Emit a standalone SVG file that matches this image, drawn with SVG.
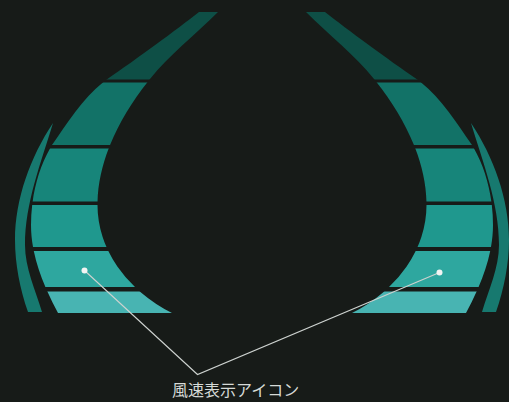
<svg xmlns="http://www.w3.org/2000/svg" xmlns:xlink="http://www.w3.org/1999/xlink" width="509" height="402" viewBox="0 0 509 402">
  <style>
    .s1{fill:#0e4f46}
    .s2{fill:#127267}
    .s3{fill:#17857a}
    .s4{fill:#1f988e}
    .s5{fill:#2ea79f}
    .s6{fill:#48b4b2}
    .arc{fill:#17796f}
    .lead{fill:none;stroke:#cdd2cf;stroke-width:1.1}
    .dot{fill:#f2f4f3}
    .lbl{font-family:"Noto Sans CJK JP","Noto Sans",sans-serif;font-size:16px;fill:#d6dad7}
  </style>
  <defs>
    <path id="crescent" d="M199,12 C176,30 138,58 106,80 C83,97.6 68,122 52,145 C38,168 31,197 31,225 C31,256 43.6,286 58,313 L172,313 A164 129 0 0 1 97.5,205 C97.5,160 120.4,115.7 150,79 C169.5,54.8 195,35 218,12 Z"/>
    <path id="thinarc" d="M53,123 C30.4,157 15,199 15,240 C15,264 20,289.4 28,312 L42,312 C35.5,290 25,268 25,245 C25,203 41,163 53,123 Z"/>
    <clipPath id="c1"><rect x="0" y="0" width="262" height="79.5"/></clipPath>
    <clipPath id="c2"><rect x="0" y="82.5" width="262" height="62.5"/></clipPath>
    <clipPath id="c3"><rect x="0" y="148.5" width="262" height="53"/></clipPath>
    <clipPath id="c4"><rect x="0" y="205" width="262" height="42"/></clipPath>
    <clipPath id="c5"><rect x="0" y="251" width="262" height="36"/></clipPath>
    <clipPath id="c6"><rect x="0" y="291.5" width="262" height="22"/></clipPath>
    <g id="gauge">
      <use xlink:href="#crescent" class="s1" clip-path="url(#c1)"/>
      <use xlink:href="#crescent" class="s2" clip-path="url(#c2)"/>
      <use xlink:href="#crescent" class="s3" clip-path="url(#c3)"/>
      <use xlink:href="#crescent" class="s4" clip-path="url(#c4)"/>
      <use xlink:href="#crescent" class="s5" clip-path="url(#c5)"/>
      <use xlink:href="#crescent" class="s6" clip-path="url(#c6)"/>
      <use xlink:href="#thinarc" class="arc"/>
    </g>
  </defs>
  <rect width="509" height="402" fill="#171b18"/>
  <g id="icon-left">
    <use xlink:href="#gauge"/>
  </g>
  <g id="icon-right">
    <use xlink:href="#gauge" transform="translate(524,0) scale(-1,1)"/>
  </g>
  <g id="connectors">
    <polyline class="lead" points="84.5,270.5 197.5,374.5 439.5,272.5"/>
    <circle class="dot" cx="84.5" cy="270.5" r="3"/>
    <circle class="dot" cx="439.5" cy="272.5" r="3"/>
  </g>
  <g id="label">
    <text class="lbl" x="172" y="396">風速表示アイコン</text>
  </g>
</svg>
